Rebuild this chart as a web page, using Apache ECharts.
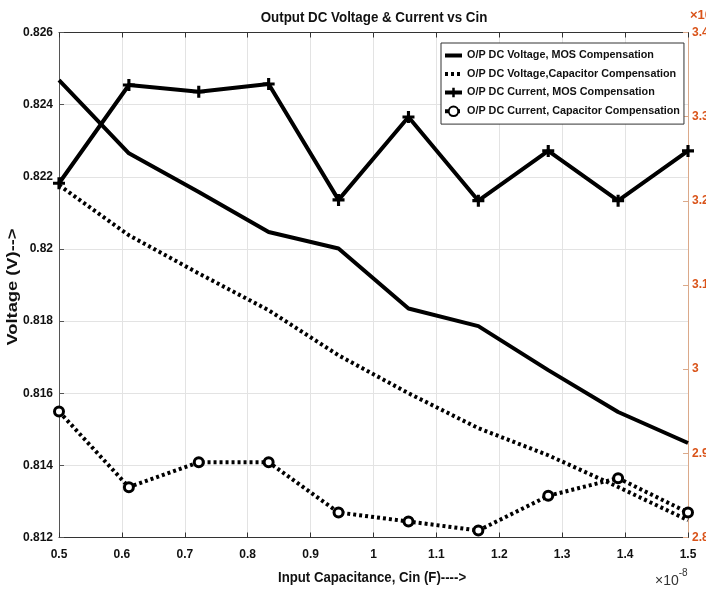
<!DOCTYPE html>
<html>
<head>
<meta charset="utf-8">
<script src="https://cdn.jsdelivr.net/npm/echarts@6/dist/echarts.min.js"></script>
<style>
html,body{margin:0;padding:0;background:#fff;}
#c{width:706px;height:592px;}
</style>
</head>
<body>
<div id="c"></div>
<script>
const cin = [0.5, 0.6111, 0.7222, 0.8333, 0.9444, 1.0556, 1.1667, 1.2778, 1.3889, 1.5];
const voltMOS = [0.82468, 0.82265, 0.82158, 0.82047, 0.82001, 0.81835, 0.81786, 0.81664, 0.81548, 0.81462];
const voltCap = [0.82177, 0.82038, 0.81932, 0.81830, 0.81705, 0.81600, 0.81503, 0.81428, 0.81340, 0.81248];
const currMOS = [3.2209, 3.3376, 3.3297, 3.3388, 3.2011, 3.2996, 3.2002, 3.2593, 3.2002, 3.2593];
const currCap = [2.9497, 2.8598, 2.8895, 2.8895, 2.8297, 2.8190, 2.8083, 2.8495, 2.8705, 2.8297];
const seriesNames = [
  'O/P DC Voltage, MOS Compensation',
  'O/P DC Voltage,Capacitor Compensation',
  'O/P DC Current, MOS Compensation',
  'O/P DC Current, Capacitor Compensation'
];
const titleText = 'Output DC Voltage & Current vs Cin';
const xName = 'Input Capacitance, Cin (F)---->';
const yName = 'Voltage (V)-->';

const FONT = "'Liberation Sans Narrow','Arial Narrow','Liberation Sans',Arial,sans-serif";
const ORANGE = '#D95319';
const pair = (xs, ys) => xs.map((x, i) => [x, ys[i]]);
const fmt = v => String(Number(v.toFixed(3)));
const plus = 'path://M3.7,0 H6.3 V3.7 H10 V6.3 H6.3 V10 H3.7 V6.3 H0 V3.7 H3.7 Z';

const chart = echarts.init(document.getElementById('c'), null, {renderer: 'canvas'});
chart.setOption({
  animation: false,
  backgroundColor: '#fff',
  textStyle: {fontFamily: FONT},
  grid: {left: 59, right: 18, top: 32.5, bottom: 54.5, containLabel: false, outerBoundsMode: 'none'},
  legend: {
    orient: 'vertical', left: 441, top: 43,
    backgroundColor: '#fff', borderColor: '#333', borderWidth: 1,
    padding: [7, 4, 7, 2], itemWidth: 17, itemHeight: 12, itemGap: 7.5,
    textStyle: {fontFamily: FONT, fontSize: 10.8, fontWeight: 'bold', color: '#111'},
    data: [
      {name: seriesNames[0], itemStyle: {opacity: 0}, lineStyle: {width: 4}},
      {name: seriesNames[1], itemStyle: {opacity: 0}, lineStyle: {width: 4, type: [3, 3]}},
      {name: seriesNames[2], lineStyle: {width: 4}},
      {name: seriesNames[3], lineStyle: {width: 4, type: [3, 3]}}
    ]
  },
  xAxis: [{
    type: 'value', min: 0.5, max: 1.5, interval: 0.1, position: 'bottom',
    axisLine: {show: true, lineStyle: {color: '#333', width: 1}},
    axisTick: {show: true, inside: true, length: 5, lineStyle: {color: '#333'}},
    axisLabel: {formatter: fmt, margin: 11, fontFamily: FONT, fontSize: 12, fontWeight: 'bold', color: '#111'},
    splitLine: {show: true, lineStyle: {color: '#e3e3e3', width: 1}}
  }, {
    type: 'value', min: 0.5, max: 1.5, interval: 0.1, position: 'top',
    axisLine: {show: true, lineStyle: {color: '#333', width: 1}},
    axisTick: {show: true, inside: true, length: 5, lineStyle: {color: '#333'}},
    axisLabel: {show: false}, splitLine: {show: false}
  }],
  yAxis: [{
    type: 'value', min: 0.812, max: 0.826, interval: 0.002, position: 'left',
    axisLine: {show: true, lineStyle: {color: '#555', width: 1}},
    axisTick: {show: true, inside: true, length: 5, lineStyle: {color: '#555'}},
    axisLabel: {formatter: fmt, margin: 6, fontFamily: FONT, fontSize: 12, fontWeight: 'bold', color: '#111'},
    splitLine: {show: true, lineStyle: {color: '#e3e3e3', width: 1}}
  }, {
    type: 'value', min: 2.8, max: 3.4, interval: 0.1, position: 'right',
    axisLine: {show: true, lineStyle: {color: '#dba98a', width: 1}},
    axisTick: {show: true, inside: true, length: 5, lineStyle: {color: '#dba98a'}},
    axisLabel: {formatter: fmt, margin: 4, fontFamily: FONT, fontSize: 12, fontWeight: 'bold', color: ORANGE},
    splitLine: {show: false}
  }],
  graphic: [{
    type: 'text', x: 374, y: 18, scaleX: 0.89,
    style: {text: titleText, x: 0, y: 0, align: 'center', verticalAlign: 'middle',
      fontFamily: FONT, fontSize: 15, fontWeight: 'bold', fill: '#111'}
  }, {
    type: 'text', x: 278, y: 578, scaleX: 0.88,
    style: {text: xName, x: 0, y: 0, align: 'left', verticalAlign: 'middle',
      fontFamily: FONT, fontSize: 15, fontWeight: 'bold', fill: '#111'}
  }, {
    type: 'text', x: 12.5, y: 287, rotation: Math.PI / 2, scaleX: 1.22,
    style: {text: yName, x: 0, y: 0, align: 'center', verticalAlign: 'middle',
      fontFamily: FONT, fontSize: 15, fontWeight: 'bold', fill: '#111'}
  }, {
    type: 'text', x: 690, y: 15,
    style: {text: '×10', x: 0, y: 0, align: 'left', verticalAlign: 'middle',
      fontFamily: FONT, fontSize: 13, fontWeight: 'bold', fill: ORANGE}
  }, {
    type: 'text', x: 655, y: 568,
    style: {
      text: '{a|×10}{b|-8}', x: 0, y: 0,
      rich: {
        a: {fontFamily: FONT, fontSize: 14, fill: '#333', verticalAlign: 'bottom', padding: [6, 0, 0, 0]},
        b: {fontFamily: FONT, fontSize: 10, fill: '#333', verticalAlign: 'top'}
      }
    }
  }],
  series: [{
    name: seriesNames[0], type: 'line', xAxisIndex: 0, yAxisIndex: 0,
    data: pair(cin, voltMOS), showSymbol: false, symbol: 'none',
    lineStyle: {color: '#000', width: 4, type: 'solid'}, itemStyle: {color: '#000'}
  }, {
    name: seriesNames[1], type: 'line', xAxisIndex: 0, yAxisIndex: 0,
    data: pair(cin, voltCap), showSymbol: false, symbol: 'none',
    lineStyle: {color: '#000', width: 4, type: [3, 3], cap: 'butt'}, itemStyle: {color: '#000'}
  }, {
    name: seriesNames[2], type: 'line', xAxisIndex: 0, yAxisIndex: 1,
    data: pair(cin, currMOS), symbol: plus, symbolSize: 12, showSymbol: true,
    lineStyle: {color: '#000', width: 4, type: 'solid'}, itemStyle: {color: '#000'}
  }, {
    name: seriesNames[3], type: 'line', xAxisIndex: 0, yAxisIndex: 1,
    data: pair(cin, currCap), symbol: 'circle', symbolSize: 9, showSymbol: true,
    lineStyle: {color: '#000', width: 4, type: [3, 3], cap: 'butt'},
    itemStyle: {color: '#fff', borderColor: '#000', borderWidth: 3}
  }]
});
</script>
</body>
</html>
